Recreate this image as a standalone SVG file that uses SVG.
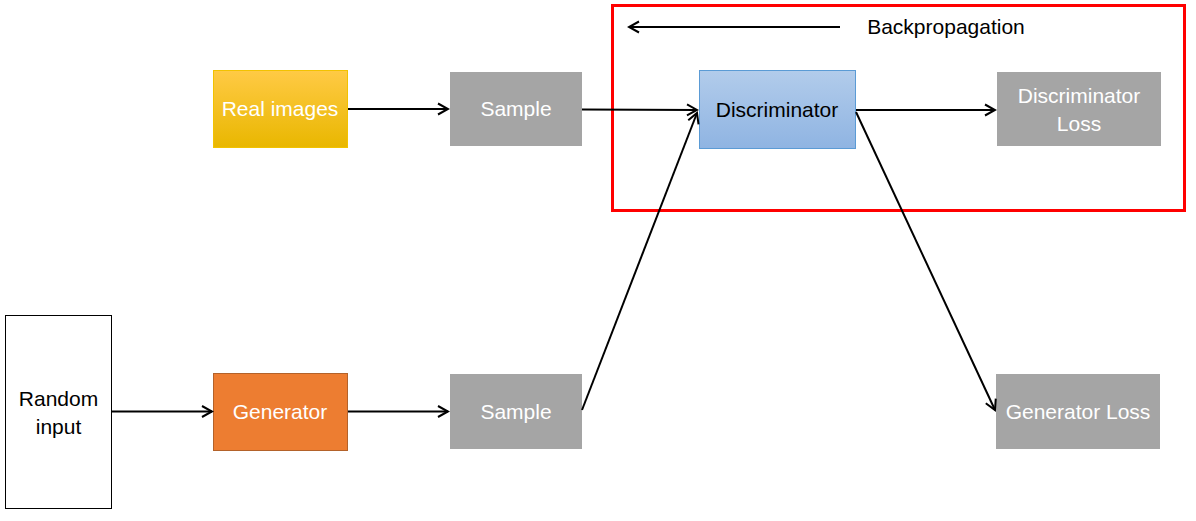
<svg xmlns="http://www.w3.org/2000/svg" width="1196" height="521" viewBox="0 0 1196 521">
<defs>
<linearGradient id="gYellow" x1="0" y1="0" x2="0" y2="1">
<stop offset="0" stop-color="#FFCA45"/>
<stop offset="1" stop-color="#E9B700"/>
</linearGradient>
<linearGradient id="gBlue" x1="0" y1="0" x2="0" y2="1">
<stop offset="0" stop-color="#B2CCEB"/>
<stop offset="1" stop-color="#8FB4E2"/>
</linearGradient>
<marker id="arr" markerUnits="userSpaceOnUse" markerWidth="14" markerHeight="14" viewBox="0 0 14 14" refX="12" refY="7" orient="auto">
<path d="M2,1.5 L12,7 L2,12.5" fill="none" stroke="#000" stroke-width="2"/>
</marker>
<style>
text{font-family:"Liberation Sans",Arial,sans-serif;font-size:21px;text-anchor:middle}
.w{fill:#fff}
.k{fill:#000}
.gray{fill:#A5A5A5}
.conn line{stroke:#000;stroke-width:2;marker-end:url(#arr)}
</style>
</defs>
<rect width="1196" height="521" fill="#fff"/>
<g id="backprop-box">
<rect x="612.5" y="5.5" width="572" height="205" fill="none" stroke="#FF0000" stroke-width="3"/>
<text x="946" y="34" class="k">Backpropagation</text>
</g>
<g id="real-images">
<rect x="213.5" y="70.5" width="134" height="77" fill="url(#gYellow)" stroke="#F2C200" stroke-width="1"/>
<text x="280" y="116" class="w">Real images</text>
</g>
<g id="sample-top">
<rect x="450" y="72" width="132" height="74" class="gray"/>
<text x="516" y="116" class="w">Sample</text>
</g>
<g id="discriminator">
<rect x="699.5" y="70.5" width="156" height="78" fill="url(#gBlue)" stroke="#5B9BD5" stroke-width="1"/>
<text x="777" y="117" class="k">Discriminator</text>
</g>
<g id="discriminator-loss">
<rect x="997" y="72" width="164" height="74" class="gray"/>
<text x="1079" y="103" class="w">Discriminator</text>
<text x="1079" y="131" class="w">Loss</text>
</g>
<g id="random-input">
<rect x="5.5" y="315.5" width="106" height="193" fill="#fff" stroke="#000" stroke-width="1"/>
<text x="58.5" y="406" class="k">Random</text>
<text x="58.5" y="434" class="k">input</text>
</g>
<g id="generator">
<rect x="213.5" y="373.5" width="134" height="77" fill="#ED7D31" stroke="#B3622A" stroke-width="1"/>
<text x="280" y="419" class="w">Generator</text>
</g>
<g id="sample-bottom">
<rect x="450" y="374" width="132" height="75" class="gray"/>
<text x="516" y="419" class="w">Sample</text>
</g>
<g id="generator-loss">
<rect x="996" y="374" width="164" height="75" class="gray"/>
<text x="1078" y="419" class="w">Generator Loss</text>
</g>
<g id="connectors" class="conn">
<line x1="840" y1="27" x2="629" y2="27"/>
<line x1="348" y1="109" x2="448" y2="109"/>
<line x1="582" y1="109.5" x2="697" y2="110"/>
<line x1="856" y1="110" x2="995" y2="110"/>
<line x1="582" y1="410" x2="697" y2="113"/>
<line x1="856" y1="112" x2="995" y2="410"/>
<line x1="111" y1="411.5" x2="212" y2="411.5"/>
<line x1="348" y1="411.5" x2="448" y2="411.5"/>
</g>
</svg>
